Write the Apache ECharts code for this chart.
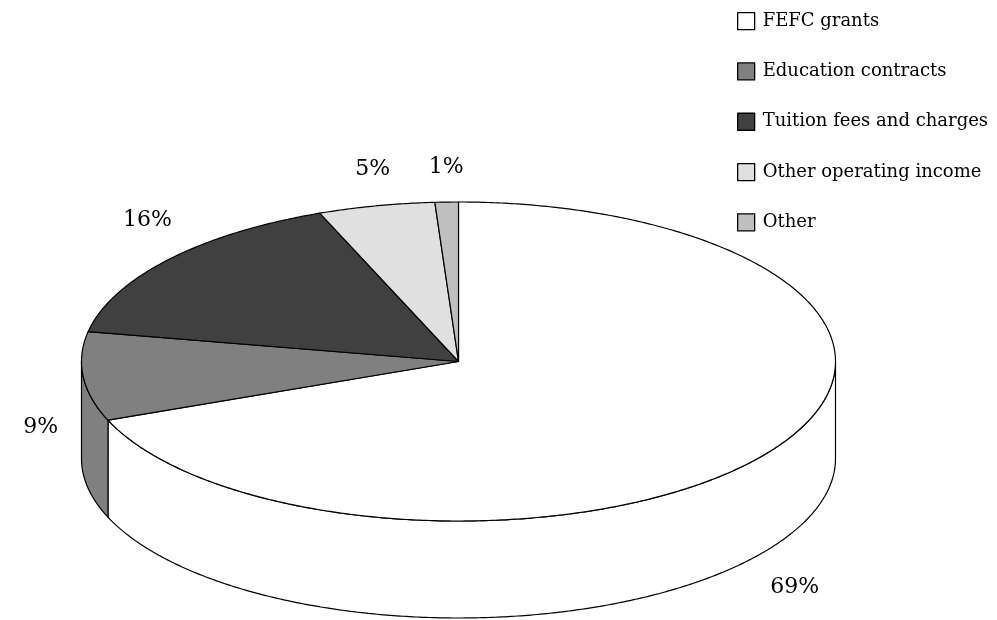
<!DOCTYPE html>
<html>
<head>
<meta charset="utf-8">
<script src="https://cdn.jsdelivr.net/npm/echarts@6/dist/echarts.min.js"></script>
<style>
html,body{margin:0;padding:0;background:#fff;}
#chart{width:997px;height:620px;}
</style>
</head>
<body>
<div id="chart"></div>
<script>
// ---- data ----
const categories = ['FEFC grants', 'Education contracts', 'Tuition fees and charges', 'Other operating income', 'Other'];
const shares = [69, 9, 16, 5, 1];
const colors = ['#ffffff', '#808080', '#404040', '#e0e0e0', '#c0c0c0'];

// ---- layout ----
const CX = 458.5, CY = 361.5, RX = 377, RY = 159.5, DEPTH = 97;
const LABEL_FONT = 22, LEGEND_FONT = 18, FONT = '"DejaVu Serif", serif';

const total = shares.reduce((a, b) => a + b, 0);
const measureCtx = document.createElement('canvas').getContext('2d');
function textWidth(t, size) {
  measureCtx.font = size + 'px ' + FONT;
  return measureCtx.measureText(t).width;
}
function pt(theta, dz) {
  return [CX + RX * Math.sin(theta), CY - RY * Math.cos(theta) + dz];
}
function arc(a, b, dz) {
  const pts = [];
  const n = Math.max(2, Math.ceil(Math.abs(b - a) / (Math.PI / 360)));
  for (let i = 0; i <= n; i++) pts.push(pt(a + (b - a) * i / n, dz));
  return pts;
}

function renderItem(params, api) {
  const idx = params.dataIndex;
  let cum = 0;
  for (let i = 0; i < idx; i++) cum += shares[i];
  const v = api.value(0);
  const t0 = cum / total * Math.PI * 2;
  const t1 = (cum + v) / total * Math.PI * 2;
  const fill = colors[idx];
  const children = [];
  // side (front half only)
  const a = Math.max(t0, Math.PI / 2), b = Math.min(t1, Math.PI * 1.5);
  if (a < b) {
    const side = arc(a, b, 0).concat(arc(b, a, DEPTH));
    children.push({type: 'polygon', shape: {points: side},
      style: {fill: fill, stroke: '#000', lineWidth: 1.2}});
  }
  // top face
  const top = [[CX, CY]].concat(arc(t0, t1, 0));
  children.push({type: 'polygon', shape: {points: top},
    style: {fill: fill, stroke: '#000', lineWidth: 1.2, lineJoin: 'round'}});
  // label
  const mid = (t0 + t1) / 2;
  const s = Math.sin(mid), c = Math.cos(mid);
  const h = Math.min(1, Math.max(0, 0.3 - 1.3 * c));
  const P = [CX + RX * s, CY - RY * c + DEPTH * h];
  let nx = s * RY, ny = -c * RX;
  const nl = Math.hypot(nx, ny); nx /= nl; ny /= nl;
  const txt = Math.round(v / total * 100) + '%';
  const hw = textWidth(txt, LABEL_FONT) / 2, hh = LABEL_FONT / 2;
  const gap = 24 + Math.abs(nx) * hw + Math.abs(ny) * hh;
  children.push({type: 'text', x: P[0] + nx * gap, y: P[1] + ny * gap,
    style: {text: txt, fontSize: LABEL_FONT, fontFamily: FONT, fill: '#000',
      align: 'center', verticalAlign: 'middle'}});
  return {type: 'group', children: children};
}

const chart = echarts.init(document.getElementById('chart'), null, {renderer: 'canvas'});
chart.setOption({
  backgroundColor: '#ffffff',
  animation: false,
  legend: {
    data: categories,
    orient: 'vertical',
    left: 732,
    top: 7,
    itemWidth: 17,
    itemHeight: 17,
    itemGap: 32,
    icon: 'rect',
    itemStyle: {borderColor: '#000', borderWidth: 1.3},
    textStyle: {fontSize: LEGEND_FONT, fontFamily: FONT, color: '#000', padding: [0, 0, 0, 3]},
    selectedMode: false
  },
  series: [
    {
      type: 'pie',
      name: 'legendHelper',
      radius: [0, 0],
      silent: true,
      label: {show: false},
      labelLine: {show: false},
      data: categories.map((n, i) => ({name: n, value: shares[i], itemStyle: {color: colors[i]}}))
    },
    {
      type: 'custom',
      name: 'pie3d',
      coordinateSystem: 'none',
      renderItem: renderItem,
      data: shares.map(v => [v])
    }
  ]
});
</script>
</body>
</html>
